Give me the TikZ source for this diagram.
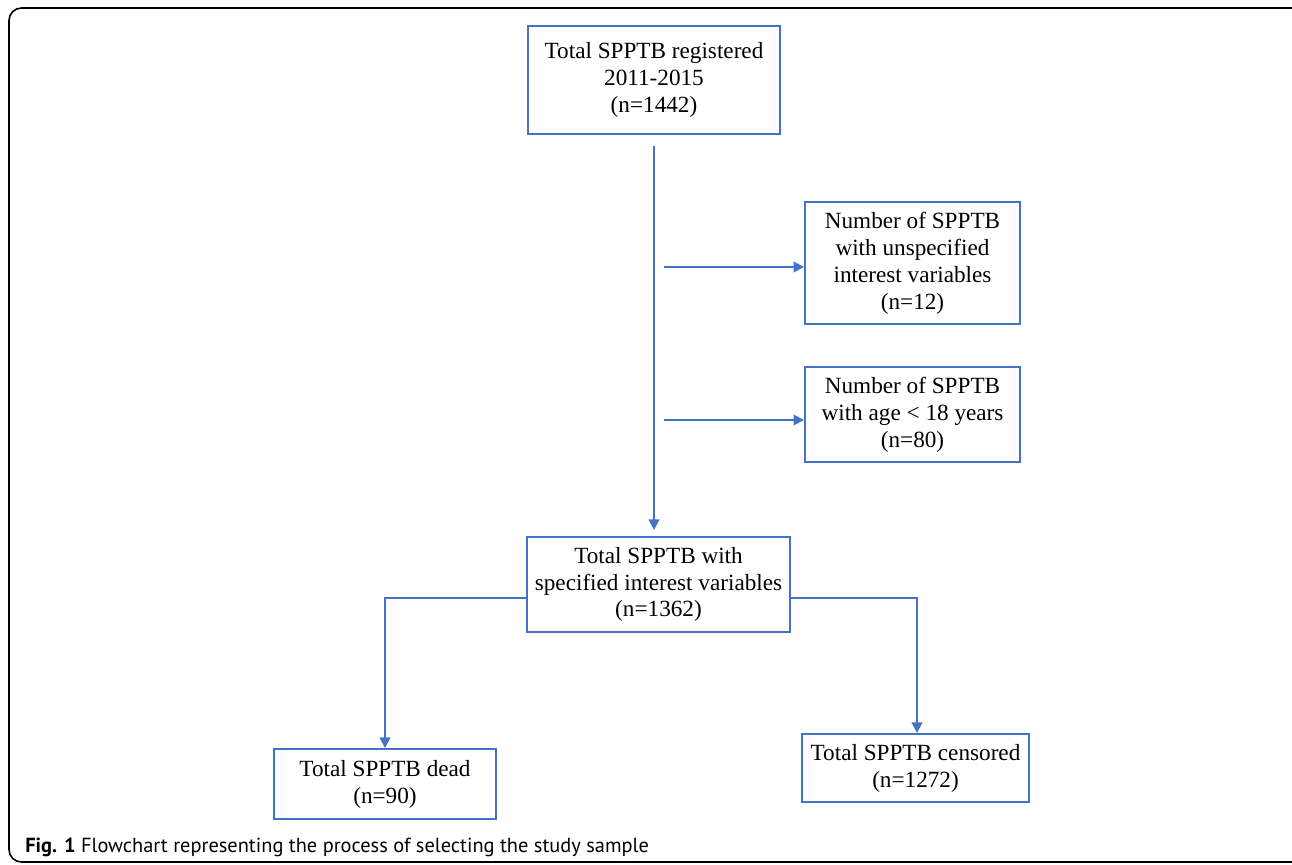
\documentclass[tikz,border=0pt]{standalone}
\usepackage{fontspec}
\setmainfont{Liberation Serif}
\newfontfamily\capfont{PT Sans}
\usepackage{tikz}
\usetikzlibrary{calc}
\usetikzlibrary{arrows.meta}
\definecolor{boxblue}{RGB}{68,114,196}

\begin{document}
\begin{tikzpicture}[
    box/.style={rectangle, draw=boxblue, line width=1.1pt, align=center,
      inner sep=0pt, font=\fontsize{13.2}{15.3}\selectfont},
    arr/.style={draw=boxblue, line width=1.1pt, -{Triangle[length=6pt,width=6pt]}}
    ]
    \useasboundingbox (0,0) rectangle (25.84,17.28);
    \clip (0,0) rectangle (25.84,17.28);
    \draw[line width=0.9pt, rounded corners=0.25cm] (0.18,0.04) rectangle (26.5,17.12);

    \node[box, minimum width=5.04cm, minimum height=2.16cm] (total) at (13.08,15.68)
      {Total SPPTB registered\\2011-2015\\(n=1442)};
    \node[box, minimum width=4.3cm, minimum height=2.44cm] (unspec) at (18.25,12.02)
      {Number of SPPTB\\with unspecified\\interest variables\\(n=12)};
    \node[box, minimum width=4.3cm, minimum height=1.9cm] (young) at (18.25,8.99)
      {Number of SPPTB\\with age < 18 years\\(n=80)};
    \node[box, minimum width=5.26cm, minimum height=1.9cm] (spec) at (13.17,5.59)
      {Total SPPTB with\\specified interest variables\\(n=1362)};
    \node[box, minimum width=4.44cm, minimum height=1.4cm] (dead) at (7.7,1.6)
      {Total SPPTB dead\\(n=90)};
    \node[box, minimum width=4.54cm, minimum height=1.36cm] (cens) at (18.31,1.92)
      {Total SPPTB censored\\(n=1272)};

    % main line and exclusions
    \draw[arr] ([yshift=-0.22cm]total.south) -- ([yshift=0.12cm]total.south |- spec.north);
    \coordinate (ex1) at (13.28,11.94);
    \coordinate (ex2) at (13.28,8.88);
    \draw[arr] (ex1) -- (ex1 -| unspec.west);
    \draw[arr] (ex2) -- (ex2 -| young.west);

    % outcome
    \draw[arr] ([yshift=-0.27cm]spec.west) -| (dead.north);
    \draw[arr] ([yshift=-0.27cm]spec.east) -| ([xshift=0.03cm]cens.north);

    \node[anchor=base west, inner sep=0pt, font=\capfont\fontsize{11.6}{14}\selectfont] (cap) at (0.5,0.24)
      {\textbf{Fig. 1} Flowchart representing the process of selecting the study sample};
\end{tikzpicture}
\end{document}
